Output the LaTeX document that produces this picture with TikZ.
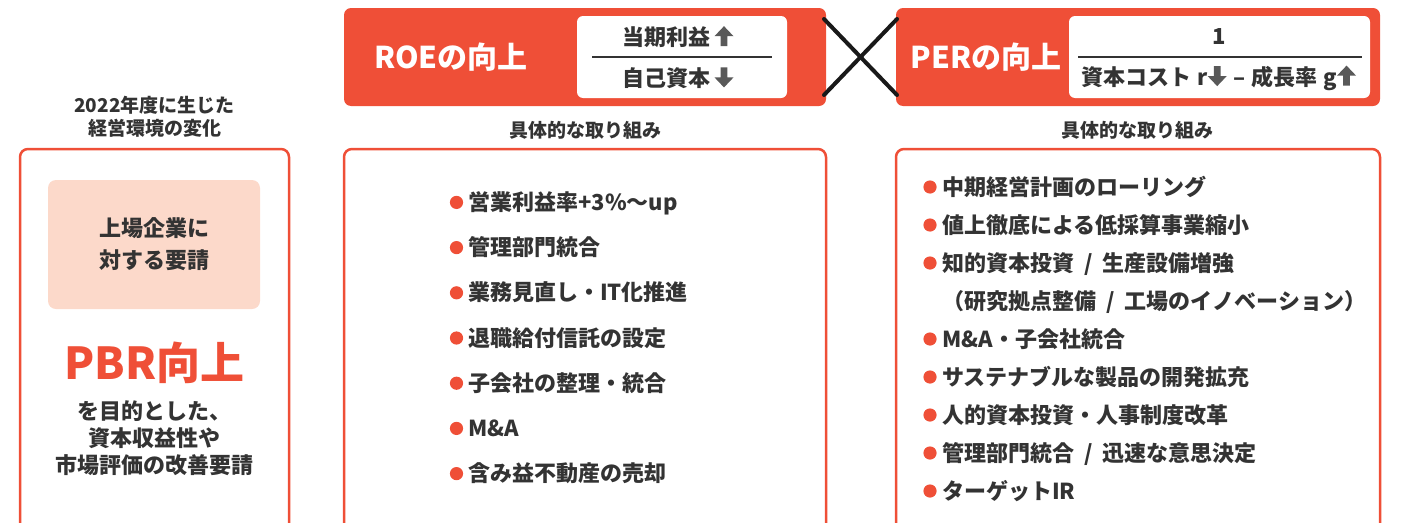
\documentclass[tikz,border=0pt]{standalone}
\usepackage{fontspec}
\setmainfont{Noto Sans CJK JP}
\usepackage{tikz}
\usetikzlibrary{positioning,calc}
\usepackage{xcolor}
\definecolor{accent}{HTML}{EF4F37}
\definecolor{accentpink}{HTML}{FCD9CA}
\definecolor{textdark}{HTML}{333333}
\definecolor{arrowgray}{HTML}{595959}
\newcommand{\pxsize}[2]{\fontsize{#1pt}{#2pt}\selectfont}
\newcommand{\slsep}{\hspace{0.45em}/\hspace{0.45em}}
\newcommand{\upblk}{\tikz[baseline=0pt,x=1pt,y=1pt]\fill[arrowgray] (0,9.5) -- (9.5,19.5) -- (19,9.5) -- (12.8,9.5) -- (12.8,-0.5) -- (6.2,-0.5) -- (6.2,9.5) -- cycle;}
\newcommand{\dnblk}{\tikz[baseline=0pt,x=1pt,y=1pt]\fill[arrowgray] (0,9) -- (9.5,-1) -- (19,9) -- (12.8,9) -- (12.8,19) -- (6.2,19) -- (6.2,9) -- cycle;}
\tikzset{
  headbox/.style={
    rectangle, rounded corners=7pt, fill=accent,
    minimum height=98pt, inner sep=0pt
  },
  fracbox/.style={
    rectangle, rounded corners=6pt, fill=white,
    minimum height=82pt, inner sep=0pt
  },
  headlabel/.style={
    text=white, font=\bfseries\pxsize{30}{36}, inner sep=0pt
  },
  fraclabel/.style={
    text=textdark, font=\bfseries\pxsize{22}{26}, inner sep=0pt
  },
  fracline/.style={
    draw=textdark, line width=1.2pt
  },
  caption/.style={
    text=textdark, font=\bfseries\pxsize{19}{23}, align=center, inner sep=0pt
  },
  panel/.style={
    rectangle, draw=accent, line width=2.5pt, rounded corners=8pt, inner sep=0pt
  },
  pinkbox/.style={
    rectangle, fill=accentpink, rounded corners=8pt, inner sep=0pt
  },
  itemtext/.style={
    anchor=base west, text=textdark, font=\bfseries\pxsize{22}{26}, inner sep=0pt
  },
  crossline/.style={
    line width=4pt, line cap=round, black!90
  }
}

\begin{document}
\begin{tikzpicture}[x=1pt,y=-1pt]
\useasboundingbox (0,0) rectangle (1420,522);
\clip (0,0) rectangle (1420,522);

% left column
\node[caption] (envtitle) at (154.5,117) {2022年度に生じた\\経営環境の変化};
\node[panel, minimum width=269pt, minimum height=392pt] (envpanel) at (154.5,345) {};
\node[pinkbox, minimum width=212pt, minimum height=129pt] (request) at (154,244.5) {};
\node[fraclabel, align=center, font=\bfseries\pxsize{22}{32}] at (request) {上場企業に\\対する要請};
\node[text=accent, font=\bfseries\pxsize{44}{50}, inner sep=0pt] (pbr) at (154.5,363) {PBR向上};
\node[fraclabel, align=center, font=\bfseries\pxsize{22}{27}] (purpose) at (154.5,438) {を目的とした、\\資本収益性や\\市場評価の改善要請};

% ROE header
\node[headbox, minimum width=482pt] (roe) at (585,57) {};
\node[headlabel] (roelabel) at (451,57) {ROEの向上};
\node[fracbox, minimum width=210pt] (roefrac) at (682,57) {};
\node[fraclabel] (roenum) at (678,37) {当期利益\hspace{4pt}\upblk};
\node[fraclabel] (roeden) at (678,78) {自己資本\hspace{4pt}\dnblk};
\coordinate (roel1) at (592,57);
\coordinate (roel2) at (772,57);
\draw[fracline] (roel1) -- (roel2);

% PER header
\node[headbox, minimum width=484pt] (per) at (1138,57) {};
\node[headlabel] (perlabel) at (986,57) {PERの向上};
\node[fracbox, minimum width=301pt] (perfrac) at (1219.5,57) {};
\node[fraclabel] (pernum) at (1219,37) {1};
\node[fraclabel] (perden) at (1219,78) {資本コスト\hspace{0.25em}r\dnblk\hspace{0.3em}–\hspace{0.3em}成長率\hspace{0.25em}g\upblk};
\coordinate (perl1) at (1078,57);
\coordinate (perl2) at (1362,57);
\draw[fracline] (perl1) -- (perl2);

% multiplication sign
\coordinate (xa) at (824,19);
\coordinate (xb) at (897,95);
\coordinate (xc) at (824,95);
\coordinate (xd) at (897,19);
\draw[crossline] (xa) -- (xb);
\draw[crossline] (xc) -- (xd);

% ROE measures
\node[caption] (roecap) at (585,130) {具体的な取り組み};
\node[panel, minimum width=482pt, minimum height=392pt] (roepanel) at (585,345) {};
\foreach \txt [count=\i] in {営業利益率+3\%〜up, 管理部門統合, 業務見直し・IT化推進, 退職給付信託の設定, 子会社の整理・統合, M\&A, 含み益不動産の売却} {
  \node[itemtext] (m\i) at (468,{210.4+45.2*(\i-1)}) {\txt};
  \fill[accent] ($(m\i.base west)+(-11.5,-8)$) circle (6.6pt);
}

% PER measures
\node[caption] (percap) at (1137,130) {具体的な取り組み};
\node[panel, minimum width=484pt, minimum height=392pt] (perpanel) at (1138,345) {};
\foreach \txt/\y [count=\i] in {中期経営計画のローリング/0, 値上徹底による低採算事業縮小/1, {知的資本投資\slsep 生産設備増強}/2, M\&A・子会社統合/4, サステナブルな製品の開発拡充/5, 人的資本投資・人事制度改革/6, {管理部門統合\slsep 迅速な意思決定}/7, ターゲットIR/8} {
  \node[itemtext] (p\i) at (942,{195+38*\y}) {\txt};
  \fill[accent] ($(p\i.base west)+(-12,-8)$) circle (6.6pt);
}
\node[itemtext] (p3b) at (942,{195+38*3}) {（研究拠点整備\slsep 工場のイノベーション）};
\end{tikzpicture}
\end{document}
